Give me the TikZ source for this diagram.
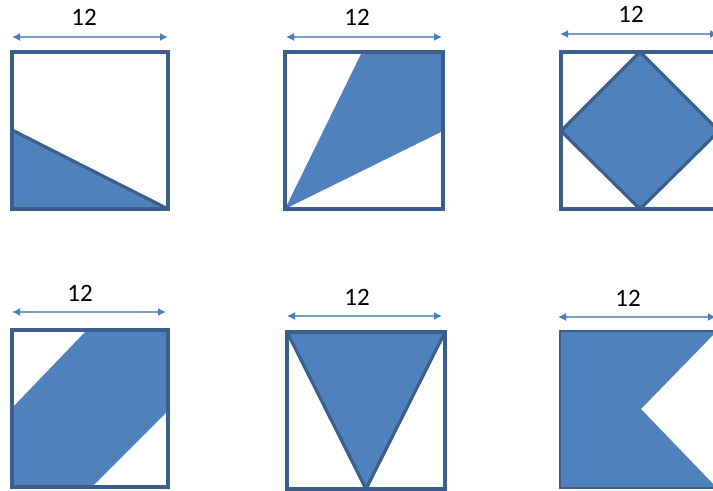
\documentclass[tikz,border=0pt]{standalone}
\usepackage{fontspec}
\setmainfont{Carlito}
\usetikzlibrary{arrows.meta}
\definecolor{shapeblue}{HTML}{4F81BD}
\definecolor{edgeblue}{HTML}{3A5F8C}
\definecolor{dimblue}{HTML}{4A7EBB}

\begin{document}
\begin{tikzpicture}[x=0.5pt, y=-0.5pt,
  box/.style={draw=edgeblue, line width=1.7pt},
  piece/.style={fill=shapeblue},
  rim/.style={draw=edgeblue, line width=1.6pt, line join=round},
  dimline/.style={draw=dimblue!75, line width=0.7pt,
    {Latex[length=4pt,width=4pt,color=dimblue]}-{Latex[length=4pt,width=4pt,color=dimblue]}},
  dimtext/.style={font=\fontsize{12.5}{14}\selectfont}]
\useasboundingbox (0,0) rectangle (713,491);

% top row
\coordinate (p1l) at (12,37); \coordinate (p1r) at (168,37);
\draw[dimline] (p1l) -- (p1r);
\node[dimtext] (t1) at (84,17) {12};
\filldraw[piece, rim] (12,130) -- (168,209) -- (12,209) -- cycle;
\draw[box] (12,52) rectangle (168,209);

\coordinate (p2l) at (286,37); \coordinate (p2r) at (442,37);
\draw[dimline] (p2l) -- (p2r);
\node[dimtext] (t2) at (357,17) {12};
\fill[piece] (285,209) -- (362,52) -- (443,52) -- (443,131) -- cycle;
\draw[box] (285,52) rectangle (443,209);

\coordinate (p3l) at (560,34); \coordinate (p3r) at (718,34);
\draw[dimline] (p3l) -- (p3r);
\node[dimtext] (t3) at (631,14) {12};
\filldraw[piece, rim] (640,52) -- (719,131) -- (640,209) -- (561,131) -- cycle;
\draw[box] (561,52) rectangle (719,209);

% bottom row
\coordinate (p4l) at (12,312); \coordinate (p4r) at (166,312);
\draw[dimline] (p4l) -- (p4r);
\node[dimtext] (t4) at (80,293) {12};
\fill[piece] (12,408) -- (87,330) -- (168,330) -- (168,411) -- (92,487) -- (12,487) -- cycle;
\draw[box] (12,330) rectangle (168,487);

\coordinate (p5l) at (287,316); \coordinate (p5r) at (442,316);
\draw[dimline] (p5l) -- (p5r);
\node[dimtext] (t5) at (357,297) {12};
\filldraw[piece, rim] (287,332) -- (445,332) -- (366,489) -- cycle;
\draw[box] (287,332) rectangle (445,489);

\coordinate (p6l) at (558,317); \coordinate (p6r) at (716,317);
\draw[dimline] (p6l) -- (p6r);
\node[dimtext] (t6) at (628,298) {12};
\fill[piece] (560,331) -- (717,331) -- (641,409) -- (717,488) -- (560,488) -- cycle;
\draw[edgeblue, line width=0.8pt] (717,331) -- (560,331) -- (560,488) -- (717,488);
\end{tikzpicture}
\end{document}
